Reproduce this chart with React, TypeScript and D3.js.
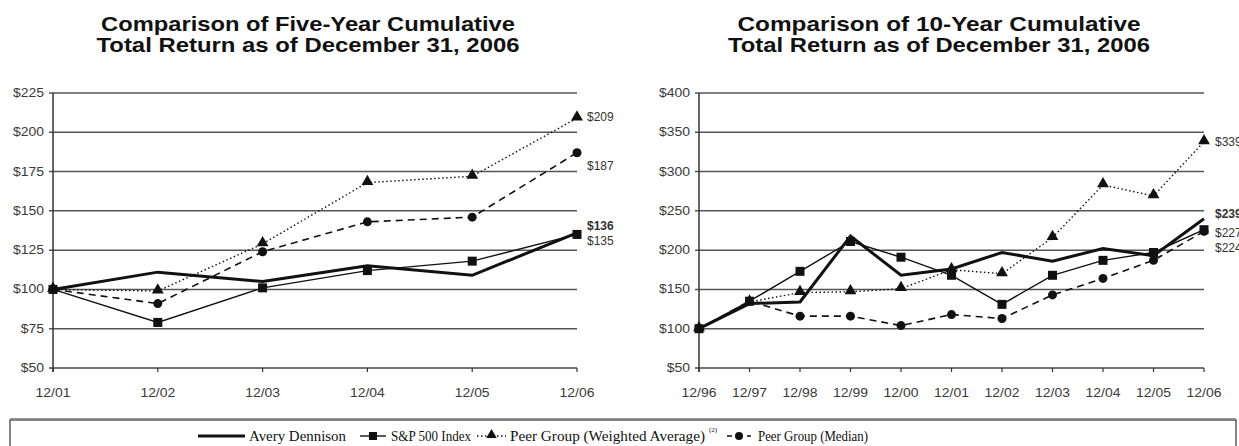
import * as d3 from 'd3'

const fiveYearLabels = ['12/01', '12/02', '12/03', '12/04', '12/05', '12/06']
const fiveAvery = [100, 111, 105, 115, 109, 136]
const fiveSP = [100, 79, 101, 112, 118, 135]
const fivePeerAvg = [100, 99, 129, 168, 172, 209]
const fivePeerMedian = [100, 91, 124, 143, 146, 187]
const fiveYTicks = [50, 75, 100, 125, 150, 175, 200, 225]
const fiveEndLabels = ['$136', '$135', '$209', '$187']

const tenYearLabels = ['12/96', '12/97', '12/98', '12/99', '12/00', '12/01', '12/02', '12/03', '12/04', '12/05', '12/06']
const tenAvery = [100, 132, 134, 218, 168, 176, 197, 186, 202, 193, 240]
const tenSP = [100, 135, 173, 211, 191, 168, 131, 168, 187, 197, 226]
const tenPeerAvg = [100, 134, 146, 147, 151, 175, 170, 216, 283, 269, 338]
const tenPeerMedian = [100, 135, 116, 116, 104, 118, 113, 143, 164, 187, 224]
const tenYTicks = [50, 100, 150, 200, 250, 300, 350, 400]
const tenEndLabels = ['$239', '$227', '$339', '$224']

const seriesNames = ['Avery Dennison', 'S&P 500 Index', 'Peer Group (Weighted Average)', 'Peer Group (Median)']

// line looks: avery, s&p, peer avg, peer median
const styles = [
  { width: 3, dash: null, marker: null },
  { width: 1.4, dash: null, marker: 'square' },
  { width: 1.4, dash: '1.5,2.5', marker: 'triangle' },
  { width: 1.6, dash: '7,5', marker: 'circle' },
]

const sans = 'Liberation Sans, Arial, sans-serif'

type ChartProps = {
  title: string[]
  titleWidths: number[]
  titleX: number
  x0: number
  x1: number
  labels: string[]
  yTicks: number[]
  series: number[][]
  endLabels: string[]
  labelDy: number[]
  labelGap: number
  markerSize: number
}

const Marker = ({ kind, x, y, s }: { kind: string | null; x: number; y: number; s: number }) => {
  if (kind === 'square') return <rect x={x - s / 2} y={y - s / 2} width={s} height={s} fill="#111" />
  if (kind === 'triangle') {
    const path = d3.symbol(d3.symbolTriangle, s * s * 0.75)()
    return <path d={path ?? ''} transform={`translate(${x},${y - 1})`} fill="#111" />
  }
  if (kind === 'circle') return <circle cx={x} cy={y} r={s / 2} fill="#111" />
  return null
}

// tick text is a bit wide in the original, stretch it horizontally
const Tick = ({ x, y, anchor, children }: { x: number; y: number; anchor: string; children: string }) => (
  <text transform={`translate(${x},${y}) scale(1.16,1)`} textAnchor={anchor} fontFamily={sans} fontSize={12} fill="#3a3a3a">
    {children}
  </text>
)

const Chart = ({ title, titleWidths, titleX, x0, x1, labels, yTicks, series, endLabels, labelDy, labelGap, markerSize }: ChartProps) => {
  const top = 93
  const bottom = 368
  const x = d3.scalePoint<string>().domain(labels).range([x0, x1])
  const y = d3.scaleLinear().domain([yTicks[0], yTicks[yTicks.length - 1]]).range([bottom, top])
  const line = d3.line<number>().x((d, i) => x(labels[i])!).y(d => y(d))
  // draw order: peers first, avery on top
  const order = [3, 2, 1, 0]
  return (
    <g>
      {title.map((t, i) => (
        <text key={t} x={titleX} y={31 + i * 21} textAnchor="middle" fontFamily={sans}
          fontWeight="bold" fontSize={21} fill="#111" textLength={titleWidths[i]} lengthAdjust="spacingAndGlyphs">{t}</text>
      ))}
      {yTicks.map(t => (
        <g key={t}>
          <line x1={x0 - 4} x2={x1} y1={y(t)} y2={y(t)} stroke={t === yTicks[0] ? '#444' : '#555'} strokeWidth={1.5} />
          <Tick x={x0 - 9} y={y(t) + 4} anchor="end">{`$${t}`}</Tick>
        </g>
      ))}
      <line x1={x0} x2={x0} y1={top} y2={bottom + 4} stroke="#333" strokeWidth={1.5} />
      {labels.map(l => (
        <g key={l}>
          <line x1={x(l)} x2={x(l)} y1={bottom} y2={bottom + 4} stroke="#333" strokeWidth={1.2} />
          <Tick x={x(l)!} y={397} anchor="middle">{l}</Tick>
        </g>
      ))}
      {order.map(si => (
        <g key={si}>
          <path d={line(series[si]) ?? ''} fill="none" stroke="#111" strokeWidth={styles[si].width}
            strokeDasharray={styles[si].dash ?? undefined} strokeLinejoin="miter" />
          {series[si].map((v, i) => (
            <Marker key={i} kind={styles[si].marker} x={x(labels[i])!} y={y(v)} s={markerSize} />
          ))}
        </g>
      ))}
      {endLabels.map((l, si) => (
        <text key={l + si} x={x1 + labelGap} y={y(series[si][series[si].length - 1]) + labelDy[si] + 4}
          fontFamily={sans} fontSize={12} fontWeight={si === 0 ? 'bold' : 'normal'} fill="#333">{l}</text>
      ))}
    </g>
  )
}

const LegendSample = ({ si, x, w }: { si: number; x: number; w: number }) => {
  const yy = 436
  const st = styles[si]
  return (
    <g>
      <line x1={x} x2={x + w} y1={yy} y2={yy} stroke="#111" strokeWidth={si === 0 ? 3 : st.width}
        strokeDasharray={st.dash === '7,5' ? '5,5' : st.dash ?? undefined} />
      <Marker kind={st.marker} x={x + w / 2} y={yy} s={8} />
    </g>
  )
}

export default function App() {
  // legend entries: sample start, sample width, text start, text width
  const legend = [
    [198, 47, 249, 97],
    [360, 26, 391, 80],
    [477, 29, 510, 195],
    [727, 24, 758, 110],
  ]
  return (
    <svg width={1239} height={446} style={{ position: 'absolute', left: 0, top: 0, background: '#fff' }}>
      <Chart
        title={['Comparison of Five-Year Cumulative', 'Total Return as of December 31, 2006']}
        titleWidths={[414, 423]}
        titleX={308}
        x0={53}
        x1={577}
        labels={fiveYearLabels}
        yTicks={fiveYTicks}
        series={[fiveAvery, fiveSP, fivePeerAvg, fivePeerMedian]}
        endLabels={fiveEndLabels}
        labelDy={[-7, 7, -1, 13]}
        labelGap={10}
        markerSize={9}
      />
      <Chart
        title={['Comparison of 10-Year Cumulative', 'Total Return as of December 31, 2006']}
        titleWidths={[403, 422]}
        titleX={939}
        x0={699}
        x1={1204}
        labels={tenYearLabels}
        yTicks={tenYTicks}
        series={[tenAvery, tenSP, tenPeerAvg, tenPeerMedian]}
        endLabels={tenEndLabels}
        labelDy={[-5, 3, 0, 17]}
        labelGap={11}
        markerSize={9}
      />
      <line x1={10} x2={1236} y1={418.5} y2={418.5} stroke="#999" strokeWidth={1} />
      <rect x={10} y={420} width={1226} height={40} fill="none" stroke="#333" strokeWidth={1.2} />
      <g fontFamily="Liberation Serif, Times New Roman, serif" fontSize={15} fill="#111">
        {legend.map(([sx, sw, tx, tw], i) => (
          <g key={seriesNames[i]}>
            <LegendSample si={i} x={sx} w={sw} />
            <text x={tx} y={441} textLength={tw} lengthAdjust="spacingAndGlyphs">{seriesNames[i]}</text>
          </g>
        ))}
        <text x={709} y={432} fontSize={7}>(2)</text>
      </g>
    </svg>
  )
}
